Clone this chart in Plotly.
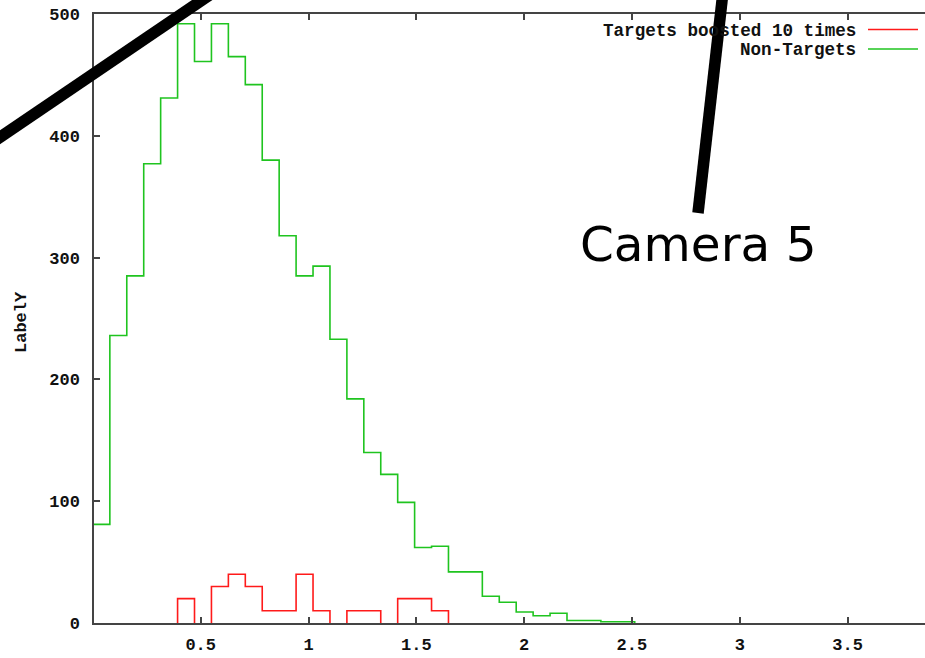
import plotly.graph_objects as go

# ---- data ----
bin_width = 0.07853
non_targets = [81, 236, 285, 377, 431, 492, 461, 492, 465, 442, 380, 318, 285, 293, 233, 184,
               140, 122, 99, 62, 63, 42, 42, 22, 17, 9, 6, 8, 2, 2, 1, 1]
targets_boosted = [0, 0, 0, 0, 0, 20, 0, 30, 40, 30, 10, 10, 40, 10, 0, 10,
                   10, 0, 20, 20, 10, 0, 0, 0, 0, 0, 0, 0, 0, 0, 0, 0]
x_ticks = [0.5, 1, 1.5, 2, 2.5, 3, 3.5]
x_tick_labels = ["0.5", "1", "1.5", "2", "2.5", "3", "3.5"]
y_ticks = [0, 100, 200, 300, 400, 500]
legend_names = ["Targets boosted 10 times", "Non-Targets"]

RED = "#ff1a1a"
GREEN = "#1fc41f"
FONT = "Liberation Mono"


def step_path(values, width):
    """gnuplot-like steps outline; zero-height runs lie on the axis and are not drawn."""
    xs, ys = [], []
    prev = 0
    for i, v in enumerate(values):
        e = i * width
        if prev == 0 and v > 0:
            if xs:
                xs.append(None)
                ys.append(None)
            xs += [e, e]
            ys += [0, v]
        elif prev > 0 and v == 0:
            xs.append(e)
            ys.append(0)
        elif prev > 0 and v > 0:
            xs.append(e)
            ys.append(v)
        if v > 0:
            xs.append((i + 1) * width)
            ys.append(v)
        prev = v
    if prev > 0:
        xs.append(len(values) * width)
        ys.append(0)
    return xs, ys


W, H = 925, 658
L, R, T, B = 94, 0, 14, 35
plot_w = W - L - R
plot_h = H - T - B
px_per_unit = 215.6
x_min = 0.005
x_max = x_min + plot_w / px_per_unit

fig = go.Figure()
gx, gy = step_path(non_targets, bin_width)
rx, ry = step_path(targets_boosted, bin_width)
fig.add_trace(go.Scatter(x=gx, y=gy, mode="lines", line=dict(color=GREEN, width=1.6),
                         name=legend_names[1], showlegend=False, hoverinfo="skip",
                         connectgaps=False))
fig.add_trace(go.Scatter(x=rx, y=ry, mode="lines", line=dict(color=RED, width=1.6),
                         name=legend_names[0], showlegend=False, hoverinfo="skip",
                         connectgaps=False))

tickfont = dict(family=FONT, size=17, color="#111111", weight="bold")

fig.update_layout(
    width=W, height=H,
    margin=dict(l=L, r=R, t=T, b=B, autoexpand=False),
    paper_bgcolor="white", plot_bgcolor="white",
    xaxis=dict(range=[x_min, x_max], tickvals=x_ticks, ticktext=x_tick_labels,
               showgrid=False, zeroline=False, showline=True, linecolor="#444444",
               linewidth=1.5, mirror="ticks", ticks="inside", ticklen=6, tickwidth=1.5,
               tickcolor="#444444", tickfont=tickfont, layer="above traces",
               automargin=False, ticklabelstandoff=5),
    yaxis=dict(range=[0, 500], tickvals=y_ticks,
               showgrid=False, zeroline=False, showline=True, linecolor="#444444",
               linewidth=1.5, mirror=False, ticks="inside", ticklen=6, tickwidth=1.5,
               tickcolor="#444444", tickfont=tickfont, layer="above traces",
               automargin=False, ticklabelstandoff=9),
)


def px2paper(px, py):
    return (px - L) / plot_w, (H - B - py) / plot_h


annotations = []
shapes = []
# legend (gnuplot style: text then line sample)
for row, (name, col) in enumerate(zip(legend_names, [RED, GREEN])):
    yc = 30.5 + row * 19.5
    ax_, ay_ = px2paper(858, yc)
    annotations.append(dict(x=ax_, y=ay_, xref="paper", yref="paper", text=name,
                            showarrow=False, xanchor="right", yanchor="middle",
                            font=dict(family=FONT, size=17.6, color="#111111", weight="bold")))
    x0, y0 = px2paper(868, yc - 1)
    x1, _ = px2paper(918, yc - 1)
    shapes.append(dict(type="line", xref="paper", yref="paper", x0=x0, x1=x1, y0=y0, y1=y0,
                       line=dict(color=col, width=1.6)))

# y-axis label
lx, ly = px2paper(21, 322)
annotations.append(dict(x=lx, y=ly, xref="paper", yref="paper", text="LabelY", textangle=-90,
                        showarrow=False, xanchor="center", yanchor="middle",
                        font=dict(family=FONT, size=17, color="#111111", weight="bold")))

# overlay: black strokes and caption
for (p0, p1) in [((-10, 144), (214, -8)), ((698, 213), (723, -8))]:
    a0 = px2paper(*p0)
    a1 = px2paper(*p1)
    shapes.append(dict(type="line", xref="paper", yref="paper", x0=a0[0], y0=a0[1],
                       x1=a1[0], y1=a1[1], line=dict(color="black", width=11.5)))

cx, cy = px2paper(698.5, 244)
annotations.append(dict(x=cx, y=cy, xref="paper", yref="paper", text="Camera 5",
                        showarrow=False, xanchor="center", yanchor="middle",
                        font=dict(family="DejaVu Sans", size=48.5, color="black")))

fig.update_layout(annotations=annotations, shapes=shapes)
fig.write_html("out.html")
